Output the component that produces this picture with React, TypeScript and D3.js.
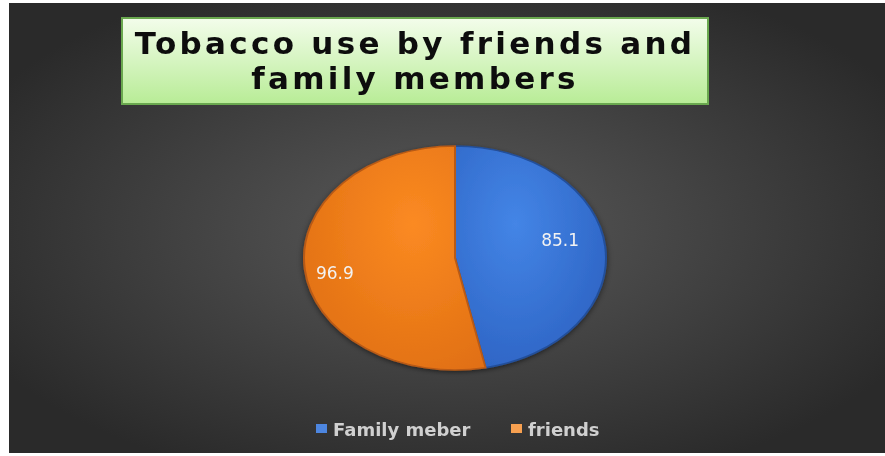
import React from "react";
import * as d3 from "d3";

const categories = ["Family meber", "friends"];
const values = [85.1, 96.9];
const labels = ["85.1", "96.9"];
const titleLines = ["Tobacco use by friends and", "family members"];

const W = 885, H = 456;

export default function App() {
  const cx = 455, cy = 258, rx = 151, ry = 112;
  const pie = d3.pie<number>().sort(null)(values);
  const arc = d3.arc<d3.PieArcDatum<number>>().innerRadius(0).outerRadius(rx);
  const labelArc = d3.arc<d3.PieArcDatum<number>>().innerRadius(rx * 0.68).outerRadius(rx * 0.68);
  const sy = ry / rx;
  const fills = ["url(#gBlue)", "url(#gOrange)"];
  const strokes = ["#244f9a", "#b85a16"];
  const legendColors = [["#4d86e0", "#1f4fa8"], ["#f7a050", "#d86a12"]];
  const legendX = [316, 511];
  const labelOffsets = [[3, -10], [-18, 7]];
  return (
    <svg width={W} height={H} style={{ position: "absolute", left: 0, top: 0 }}
      fontFamily="DejaVu Sans, Verdana, sans-serif">
      <defs>
        <radialGradient id="bg" cx="50%" cy="50%" r="60%">
          <stop offset="0" stopColor="#5a5a5a" />
          <stop offset="1" stopColor="#2a2a2a" />
        </radialGradient>
        <linearGradient id="gTitle" x1="0" y1="0" x2="0" y2="1">
          <stop offset="0" stopColor="#f3fdeb" />
          <stop offset="1" stopColor="#b8ec96" />
        </linearGradient>
        <radialGradient id="gBlue" cx="40%" cy="35%" r="75%">
          <stop offset="0" stopColor="#4485e6" />
          <stop offset="1" stopColor="#2c62c2" />
        </radialGradient>
        <radialGradient id="gOrange" cx="60%" cy="35%" r="75%">
          <stop offset="0" stopColor="#fb8a22" />
          <stop offset="1" stopColor="#e06f12" />
        </radialGradient>
        <filter id="blur1"><feGaussianBlur stdDeviation="0.6" /></filter>
        <filter id="shadow" x="-10%" y="-10%" width="120%" height="120%">
          <feDropShadow dx="0" dy="2" stdDeviation="3" floodColor="#000" floodOpacity="0.5" />
        </filter>
      </defs>
      <rect x={0} y={0} width={W} height={H} fill="#ffffff" />
      <rect x={9} y={3} width={876} height={450} fill="url(#bg)" />
      <rect x={122} y={18} width={586} height={86} fill="url(#gTitle)" stroke="#6aa84f" strokeWidth={2} />
      {titleLines.map((t, i) => (
        <text key={i} x={415} y={54 + i * 35} textAnchor="middle" fontSize={31} fontWeight="bold"
          letterSpacing={3.3} fill="#111" filter="url(#blur1)">{t}</text>
      ))}
      <g transform={`translate(${cx},${cy}) scale(1,${sy})`} filter="url(#shadow)">
        {pie.map((p, i) => (
          <path key={i} d={arc(p) || ""} fill={fills[i]} stroke={strokes[i]} strokeWidth={2} />
        ))}
      </g>
      {pie.map((p, i) => {
        const [lx, ly] = labelArc.centroid(p);
        return (
          <text key={i} x={cx + lx + labelOffsets[i][0]} y={cy + ly * sy + labelOffsets[i][1]} textAnchor="middle" dominantBaseline="central"
            fontSize={17} fill="#f2f2f2" filter="url(#blur1)">{labels[i]}</text>
        );
      })}
      {categories.map((c, i) => (
        <g key={i}>
          <rect x={legendX[i]} y={424} width={11} height={9} fill={legendColors[i][0]} />
          <text x={legendX[i] + 17} y={429} dominantBaseline="central" fontSize={18} fontWeight="bold"
            fill="#d0d0d0" filter="url(#blur1)">{c}</text>
        </g>
      ))}
    </svg>
  );
}
